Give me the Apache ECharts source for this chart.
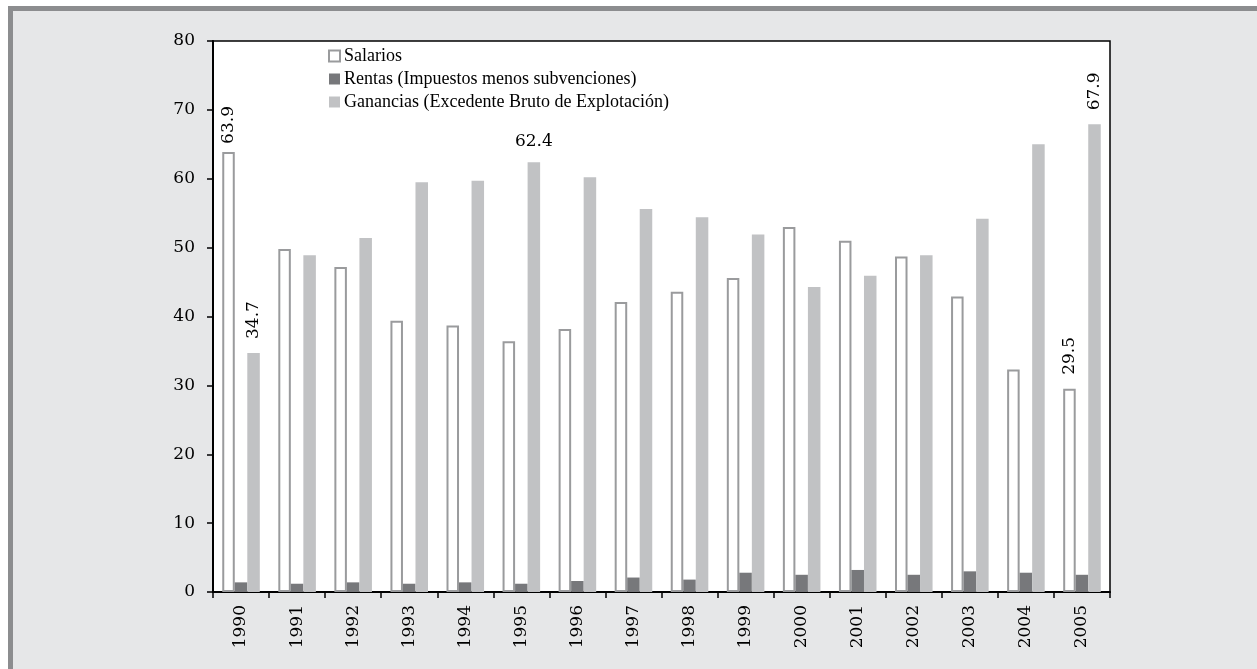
<!DOCTYPE html>
<html>
<head>
<meta charset="utf-8">
<script src="https://cdn.jsdelivr.net/npm/echarts@6/dist/echarts.min.js"></script>
<style>
  html, body { margin: 0; padding: 0; background: #ffffff; }
  #frame {
    position: absolute; left: 8px; top: 6px; width: 1300px; height: 700px;
    background: #e6e7e8; border-top: 5px solid #8c8d8f; border-left: 5px solid #8c8d8f;
  }
  #chart { position: absolute; left: 0; top: 0; width: 1257px; height: 669px; }
</style>
</head>
<body>
<div id="frame"></div>
<div id="chart"></div>
<script>
// Años
const years = ['1990', '1991', '1992', '1993', '1994', '1995', '1996', '1997',
               '1998', '1999', '2000', '2001', '2002', '2003', '2004', '2005'];

// Participación en el ingreso (%)
const salarios  = [63.9, 49.8, 47.2, 39.4, 38.7, 36.4, 38.2, 42.1, 43.6, 45.6, 53.0, 51.0, 48.7, 42.9, 32.3, 29.5];
const rentas    = [1.4, 1.2, 1.4, 1.2, 1.4, 1.2, 1.6, 2.1, 1.8, 2.8, 2.5, 3.2, 2.5, 3.0, 2.8, 2.5];
const ganancias = [34.7, 48.9, 51.4, 59.5, 59.7, 62.4, 60.2, 55.6, 54.4, 51.9, 44.3, 45.9, 48.9, 54.2, 65.0, 67.9];

const yTicks = [0, 10, 20, 30, 40, 50, 60, 70, 80];

// Índices con etiqueta de valor: orientación y separación respecto a la barra
const salariosLabels  = { 0: ['v', 8], 15: ['v', 14] };
const gananciasLabels = { 0: ['v', 14], 5: ['h', 12], 15: ['v', 14] };

const labelFont = { fontFamily: 'DejaVu Serif', fontSize: 17, color: '#000' };

function withLabels(values, marks) {
  return values.map((v, i) => {
    const mark = marks[i];
    if (!mark) return v;
    const [kind, gap] = mark;
    const label = kind === 'v'
      ? Object.assign({ show: true, position: 'top', rotate: 90, align: 'left',
          verticalAlign: 'middle', distance: gap, formatter: '{c}' }, labelFont)
      : Object.assign({ show: true, position: 'top', distance: gap, formatter: '{c}' }, labelFont);
    return { value: v, label: label };
  });
}

const chart = echarts.init(document.getElementById('chart'), null, { renderer: 'canvas' });

chart.setOption({
  backgroundColor: 'transparent',
  animation: false,
  grid: {
    left: 213, top: 41, right: 147, bottom: 77,
    show: true, backgroundColor: '#ffffff', borderColor: '#000000', borderWidth: 1.5
  },
  legend: {
    orient: 'vertical',
    left: 323, top: 42,
    itemWidth: 11, itemHeight: 11, itemGap: 5,
    icon: 'rect',
    textStyle: { fontFamily: 'Liberation Serif', fontSize: 18, color: '#000', padding: [0, 0, 0, -1] },
    data: [
      { name: 'Salarios', itemStyle: { color: '#ffffff', borderColor: '#9a9b9d', borderWidth: 2 } },
      { name: 'Rentas (Impuestos menos subvenciones)', itemStyle: { color: '#77787b', borderWidth: 0 } },
      { name: 'Ganancias (Excedente Bruto de Explotación)', itemStyle: { color: '#c1c2c4', borderWidth: 0 } }
    ]
  },
  xAxis: {
    type: 'category',
    data: years,
    axisLine: { lineStyle: { color: '#000', width: 2 } },
    axisTick: { show: true, length: 6, lineStyle: { color: '#000', width: 1.5 } },
    axisLabel: { rotate: 90, margin: 13, fontFamily: 'DejaVu Serif', fontSize: 17, color: '#000' }
  },
  yAxis: {
    type: 'value',
    min: yTicks[0], max: yTicks[yTicks.length - 1], interval: 10,
    splitLine: { show: false },
    axisLine: { show: true, lineStyle: { color: '#000', width: 2 } },
    axisTick: { show: true, length: 6, lineStyle: { color: '#000', width: 1.5 } },
    axisLabel: { margin: 18, fontFamily: 'DejaVu Serif', fontSize: 17, color: '#000' }
  },
  series: [
    {
      name: 'Salarios', type: 'bar',
      barGap: '0%', barCategoryGap: '33%',
      itemStyle: { color: '#ffffff', borderColor: '#9a9b9d', borderWidth: 2 },
      data: withLabels(salarios, salariosLabels)
    },
    {
      name: 'Rentas (Impuestos menos subvenciones)', type: 'bar',
      barGap: '0%', barCategoryGap: '33%',
      itemStyle: { color: '#77787b' },
      data: rentas
    },
    {
      name: 'Ganancias (Excedente Bruto de Explotación)', type: 'bar',
      barGap: '0%', barCategoryGap: '33%',
      itemStyle: { color: '#c1c2c4' },
      data: withLabels(ganancias, gananciasLabels)
    }
  ]
});
</script>
</body>
</html>
